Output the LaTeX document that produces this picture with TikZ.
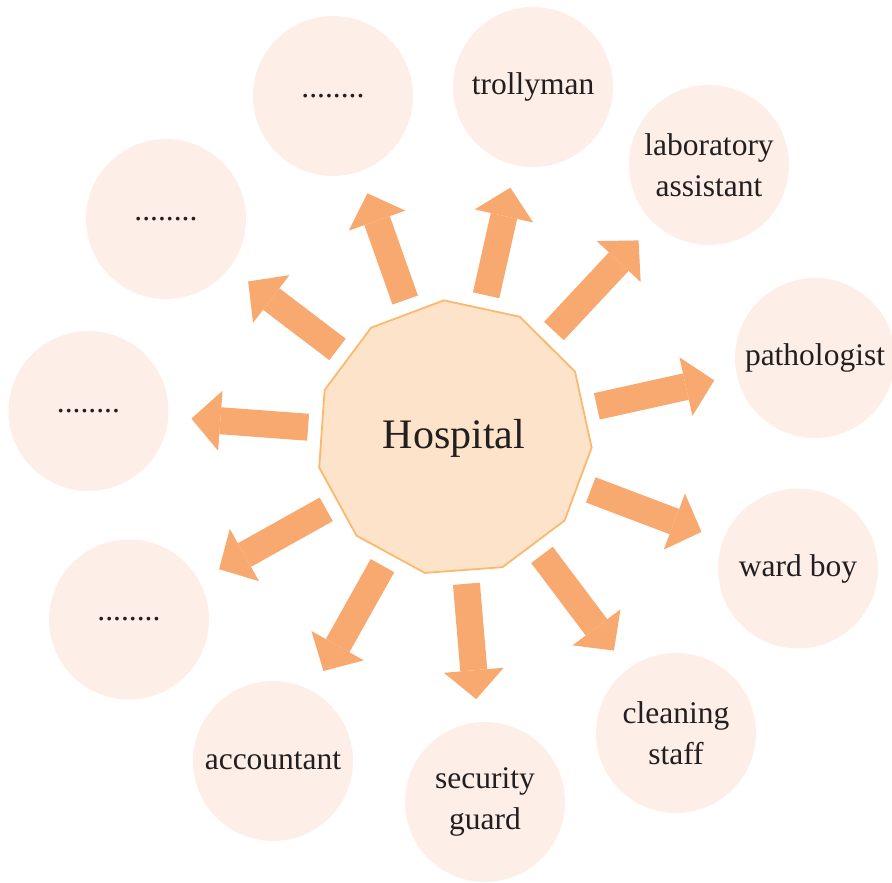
\documentclass[tikz,border=0pt]{standalone}
\usepackage{fontspec}
\setmainfont{Liberation Serif}
\usetikzlibrary{shapes.geometric,arrows.meta}
\definecolor{staffbg}{HTML}{FDEFE8}
\definecolor{hospbg}{HTML}{FDE3C9}
\definecolor{hospline}{HTML}{FAB96E}
\definecolor{arrowfill}{HTML}{F8A96F}
\definecolor{labeltext}{HTML}{231F20}

\begin{document}
\begin{tikzpicture}[x=1pt,y=1pt,
  staff/.style={circle,fill=staffbg,minimum size=160pt,inner sep=0pt,align=center,
    text=labeltext,font=\fontsize{31.5}{41}\selectfont},
  hosp/.style={regular polygon,regular polygon sides=11,shape border rotate=4.2,
    minimum size=276pt,fill=hospbg,draw=hospline,line width=1.8pt,
    text=labeltext,font=\fontsize{42}{50}\selectfont},
  outarrow/.style={draw=arrowfill,line width=27pt,shorten <=13pt,shorten >=23pt,
    -{Triangle[width=60pt,length=29pt,line width=0pt]}}]
\useasboundingbox (-454,438) rectangle (438,-445);
\node[hosp] (H) at (0,0) {Hospital};
\node[staff] (Tr) at (79,351) {trollyman};
\node[staff] (La) at (255,273) {laboratory\\assistant};
\node[staff] (Pa) at (361,80) {pathologist};
\node[staff] (Wa) at (344,-130.5) {ward boy};
\node[staff] (Cl) at (222,-295) {cleaning\\staff};
\node[staff] (Se) at (31,-364) {security\\guard};
\node[staff] (Ac) at (-181,-323) {accountant};
\node[staff] (D1) at (-325,-181.5) {........};
\node[staff] (D2) at (-365.5,27) {........};
\node[staff] (D3) at (-288,219) {........};
\node[staff] (D4) at (-121,342) {........};
\path
  (H) edge[outarrow] (Tr)
  (H) edge[outarrow] (La)
  (H) edge[outarrow] (Pa)
  (H) edge[outarrow] (Wa)
  (H) edge[outarrow] (Cl)
  (H) edge[outarrow] (Se)
  (H) edge[outarrow] (Ac)
  (H) edge[outarrow] (D1)
  (H) edge[outarrow] (D2)
  (H) edge[outarrow] (D3)
  (H) edge[outarrow] (D4)
;
\end{tikzpicture}
\end{document}
